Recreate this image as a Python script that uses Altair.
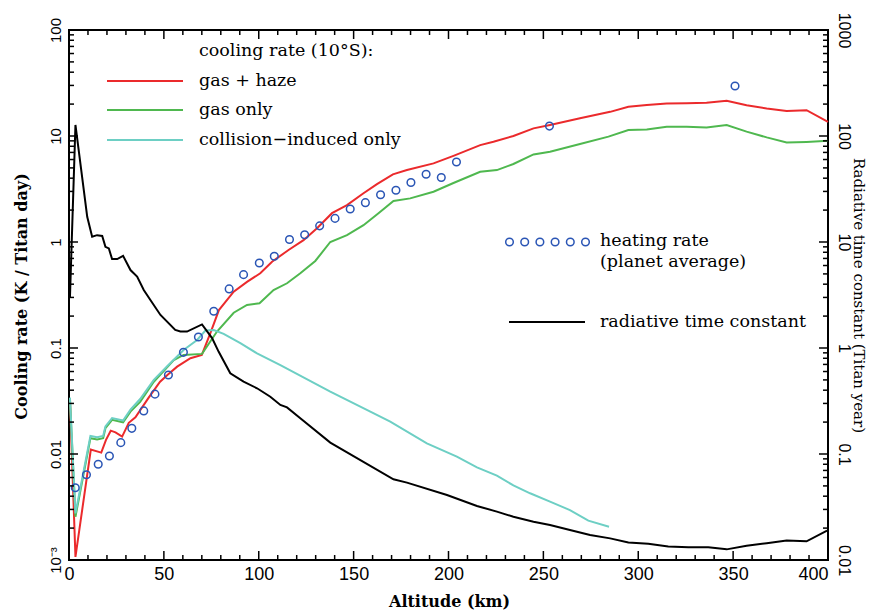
import altair as alt
import pandas as pd

# ---------------- data ----------------
red_km = [0.5, 3.4, 11.5, 17.0, 19.5, 22.0, 24.5, 28.0, 31.5, 35.0, 42.0, 48.0, 52.0, 57.0, 64.0,
          70.0, 74.5, 79.0, 86.8, 93.8, 100.8, 107.0, 115.7, 123.6, 130.7, 138.6, 146.5, 155.2,
          162.3, 170.7, 178.1, 192.1, 202.6, 216.7, 223.7, 234.2, 244.8, 253.5, 269.3, 285.2,
          294.8, 304.5, 315.0, 325.5, 336.0, 346.6, 357.1, 367.7, 378.2, 388.7, 400.0]
red_val = [0.032, 0.00107, 0.0110, 0.0103, 0.0136, 0.0166, 0.0160, 0.0146, 0.0197, 0.0222, 0.034,
           0.048, 0.056, 0.0667, 0.080, 0.086, 0.138, 0.228, 0.34, 0.42, 0.507, 0.652, 0.84, 1.04,
           1.35, 1.87, 2.23, 2.88, 3.52, 4.35, 4.77, 5.52, 6.5, 8.2, 8.83, 10.0, 11.8, 12.7, 14.7,
           16.9, 18.9, 19.6, 20.3, 20.4, 20.6, 21.5, 19.5, 18.2, 17.2, 17.5, 13.6]

green_km = [0.5, 3.4, 11.3, 14.8, 18.0, 19.2, 22.7, 28.5, 32.4, 37.5, 44.7, 55.2, 60.4, 70.1,
            78.0, 86.8, 93.8, 100.4, 107.8, 114.9, 121.9, 129.8, 137.7, 146.5, 155.2, 163.1,
            171.0, 179.8, 192.1, 202.6, 216.7, 225.5, 234.2, 244.8, 253.5, 269.3, 284.3, 294.8,
            304.5, 315.0, 325.5, 336.0, 346.6, 357.1, 367.7, 378.2, 388.7, 400.0]
green_val = [0.033, 0.00256, 0.0141, 0.0137, 0.0141, 0.0175, 0.021, 0.0199, 0.0251, 0.031, 0.048,
             0.077, 0.086, 0.088, 0.143, 0.215, 0.255, 0.264, 0.352, 0.408, 0.507, 0.662, 1.0,
             1.16, 1.44, 1.87, 2.44, 2.58, 2.98, 3.6, 4.6, 4.77, 5.44, 6.7, 7.1, 8.4, 9.86, 11.4,
             11.5, 12.2, 12.2, 12.0, 12.7, 11.0, 9.7, 8.7, 8.8, 9.0]

cyan_km = [0.5, 3.4, 11.3, 14.8, 18.0, 19.2, 22.7, 28.5, 32.4, 37.5, 44.7, 52.0, 60.4, 67.5,
           71.9, 76.3, 81.5, 90.3, 99.1, 111.4, 137.7, 158.8, 169.3, 188.6, 204.4, 215.0, 225.5,
           234.2, 243.0, 253.5, 264.0, 273.7, 284.6]
cyan_val = [0.034, 0.00275, 0.0148, 0.0144, 0.0148, 0.0182, 0.0218, 0.0207, 0.0262, 0.033, 0.05,
            0.068, 0.0957, 0.119, 0.146, 0.148, 0.136, 0.111, 0.089, 0.069, 0.0387, 0.0251,
            0.0202, 0.0126, 0.00944, 0.00749, 0.00625, 0.00505, 0.00426, 0.00355, 0.00296,
            0.00235, 0.00206]

heat_km = [3.3, 9.2, 15.4, 21.3, 27.3, 33.1, 39.4, 45.3, 52.4, 60.3, 68.2, 76.3, 84.4, 92.0,
           100.3, 108.2, 116.2, 124.2, 132.1, 140.2, 148.2, 156.2, 164.2, 172.3, 180.2, 188.2,
           196.2, 204.2, 253.2, 351.0]
heat_val = [0.00481, 0.00638, 0.0080, 0.00958, 0.0128, 0.01746, 0.0255, 0.0367, 0.0556, 0.091,
            0.127, 0.222, 0.361, 0.492, 0.634, 0.733, 1.057, 1.17, 1.42, 1.67, 2.05, 2.35, 2.79,
            3.08, 3.64, 4.36, 4.06, 5.69, 12.4, 29.6]

# radiative time constant (Titan years, right axis)
tau_km = [0.5, 3.4, 9.6, 12.2, 14.8, 17.5, 19.2, 21.0, 22.7, 25.4, 28.5, 32.4, 35.9, 39.4, 42.9,
          48.2, 56.0, 58.7, 62.2, 70.1, 75.4, 78.9, 85.0, 92.0, 99.1, 106.1, 111.4, 114.9, 121.9,
          137.7, 171.0, 178.1, 199.2, 215.0, 225.5, 234.2, 244.8, 253.5, 264.0, 274.6, 285.2,
          294.8, 305.3, 315.8, 326.4, 336.9, 346.6, 357.1, 367.7, 378.2, 388.7, 399.5]
tau_val = [3.0, 127, 17.3, 11.2, 11.6, 11.4, 9.0, 8.7, 6.9, 6.9, 7.4, 5.44, 4.71, 3.52, 2.84,
           2.05, 1.48, 1.43, 1.43, 1.67, 1.24, 0.92, 0.577, 0.481, 0.417, 0.347, 0.29, 0.275,
           0.217, 0.128, 0.0577, 0.0537, 0.041, 0.0323, 0.0286, 0.0256, 0.023, 0.0214, 0.0192,
           0.0172, 0.016, 0.0146, 0.0142, 0.0134, 0.0132, 0.0132, 0.0126, 0.0136, 0.0144,
           0.0153, 0.015, 0.0189]

x_major = [0, 50, 100, 150, 200, 250, 300, 350, 400]
x_minor = [10, 20, 30, 40, 60, 70, 80, 90, 110, 120, 130, 140, 160, 170, 180, 190, 210, 220,
           230, 240, 260, 270, 280, 290, 310, 320, 330, 340, 360, 370, 380, 390]
yl_major = [0.001, 0.01, 0.1, 1, 10, 100]
yr_major = [0.01, 0.1, 1, 10, 100, 1000]
mult = [2, 3, 4, 5, 6, 7, 8, 9]
yl_minor = [m * d for d in [0.001, 0.01, 0.1, 1, 10] for m in mult]
yr_minor = [m * d for d in [0.01, 0.1, 1, 10, 100] for m in mult]

legend_titles = ["gas + haze", "gas only", "collision\u2212induced only"]

# ---------------- styling ----------------
RED, GREEN, CYAN, BLUE = "#eb2a2c", "#4fb84f", "#6dcfc4", "#2a55b5"
W, H = 759, 530
SERIF = "DejaVu Serif"
SANS = "Liberation Sans"
LFS = 17.5

xs = alt.Scale(domain=[0, 400], nice=False, zero=False)
yls = alt.Scale(type="log", domain=[0.001, 100], nice=False)
yrs = alt.Scale(type="log", domain=[0.01, 1000], nice=False)

x_axis = alt.Axis(values=x_major, format="d", title="Altitude (km)", grid=False, domain=False,
                  ticks=False, tickSize=0, labelFont=SANS, labelFontSize=18, labelColor="black",
                  labelPadding=5, labelFlush=False,
                  labelAlign={"condition": {"test": "datum.value >= 400", "value": "right"},
                              "value": "center"},
                  titleFont=SERIF, titleFontSize=16, titleFontWeight="bold", titleColor="black",
                  titleX=380, titleY=41, titleAlign="center", titleBaseline="middle")
yl_axis = alt.Axis(values=yl_major, grid=False, domain=False, ticks=False, tickSize=0,
                   labelExpr="datum.value < 0.002 ? '10\u207b\u00b3' : format(datum.value, '~g')",
                   labelFont=SANS, labelFontSize=15, labelColor="black", labelAngle=270,
                   labelAlign="center", labelBaseline="bottom", labelPadding=6, labelFlush=False,
                   labelOverlap=False, title="Cooling rate (K / Titan day)", titleFont=SERIF,
                   titleFontSize=16, titleFontWeight="bold", titleColor="black", titleAngle=270,
                   titleX=-48, titleY=266, titleAlign="center", titleBaseline="middle")
yr_axis = alt.Axis(values=yr_major, orient="right", grid=False, domain=False, ticks=False,
                   tickSize=0, labelExpr="format(datum.value, '~g')", labelFont=SANS,
                   labelFontSize=16, labelColor="black", labelAngle=90, labelAlign="center",
                   labelBaseline="bottom", labelPadding=7, labelFlush=False, labelOverlap=False,
                   title="Radiative time constant (Titan year)", titleFont=SERIF,
                   titleFontSize=15, titleFontWeight="normal", titleColor="black",
                   titleAngle=90, titleX=30, titleY=265, titleAlign="center",
                   titleBaseline="middle")


def df(km, val):
    return pd.DataFrame({"km": km, "val": val})


def xenc(axis=alt.Undefined):
    return alt.X("km:Q", scale=xs, axis=axis)


def yenc(scale, axis=alt.Undefined):
    return alt.Y("val:Q", scale=scale, axis=axis)


red = alt.Chart(df(red_km, red_val)).mark_line(color=RED, strokeWidth=2).encode(
    x=xenc(x_axis), y=yenc(yls, yl_axis))
green = alt.Chart(df(green_km, green_val)).mark_line(color=GREEN, strokeWidth=2).encode(
    x=xenc(), y=yenc(yls))
cyan = alt.Chart(df(cyan_km, cyan_val)).mark_line(color=CYAN, strokeWidth=2).encode(
    x=xenc(), y=yenc(yls))
heat = alt.Chart(df(heat_km, heat_val)).mark_point(
    shape="circle", filled=False, size=58, strokeWidth=1.5, color=BLUE, opacity=1).encode(
    x=xenc(), y=yenc(yls))


def xticks(vals, length):
    d = pd.DataFrame({"km": vals})
    bot = alt.Chart(d).mark_rule(color="black", strokeWidth=1.5).encode(
        x=xenc(), y=alt.value(H), y2=alt.value(H - length))
    top = alt.Chart(d).mark_rule(color="black", strokeWidth=1.5).encode(
        x=xenc(), y=alt.value(0), y2=alt.value(length))
    return [bot, top]


def yticks(vals, scale, x0, x1):
    d = pd.DataFrame({"val": vals})
    return alt.Chart(d).mark_rule(color="black", strokeWidth=1.5).encode(
        y=yenc(scale), x=alt.value(x0), x2=alt.value(x1))


one = pd.DataFrame({"d": [0]})


def ltext(s, x, y):
    return alt.Chart(one).mark_text(align="left", baseline="middle", font=SERIF, fontSize=LFS,
                                    color="black").encode(
        x=alt.value(x), y=alt.value(y), text=alt.value(s))


def lline(color, x0, x1, y):
    return alt.Chart(one).mark_rule(color=color, strokeWidth=2).encode(
        x=alt.value(x0), x2=alt.value(x1), y=alt.value(y))


legend = [
    ltext("cooling rate (10\u00b0S):", 130, 21),
    lline(RED, 38, 114, 51), ltext(legend_titles[0], 130, 51),
    lline(GREEN, 38, 114, 80), ltext(legend_titles[1], 130, 80),
    lline(CYAN, 38, 114, 110), ltext(legend_titles[2], 130, 110),
    ltext("heating rate", 531, 211), ltext("(planet average)", 531, 232),
    lline("black", 440, 516, 292), ltext("radiative time constant", 531, 292),
]
for i in range(6):
    legend.append(alt.Chart(one).mark_point(shape="circle", filled=False, size=58,
                                            strokeWidth=1.5, color=BLUE, opacity=1).encode(
        x=alt.value(440.5 + 15.2 * i), y=alt.value(212)))

left_group = alt.layer(
    red, green, cyan, heat,
    *xticks(x_major, 9), *xticks(x_minor, 5),
    yticks(yl_major, yls, 0, 9), yticks(yl_minor, yls, 0, 5),
    *legend,
)

tau = alt.Chart(df(tau_km, tau_val)).mark_line(color="black", strokeWidth=2).encode(
    x=xenc(), y=yenc(yrs, yr_axis))
right_group = alt.layer(
    tau,
    yticks(yr_major, yrs, W, W - 9), yticks(yr_minor, yrs, W, W - 5),
)

chart = alt.layer(left_group, right_group).resolve_scale(y="independent").properties(
    width=W, height=H,
    autosize=alt.AutoSizeParams(type="none"),
    padding={"left": 61, "top": 22, "right": 40, "bottom": 50},
    background="white",
).configure_view(stroke="black", strokeWidth=2)

chart.save("out.html", embed_options={"renderer": "svg", "actions": False})
